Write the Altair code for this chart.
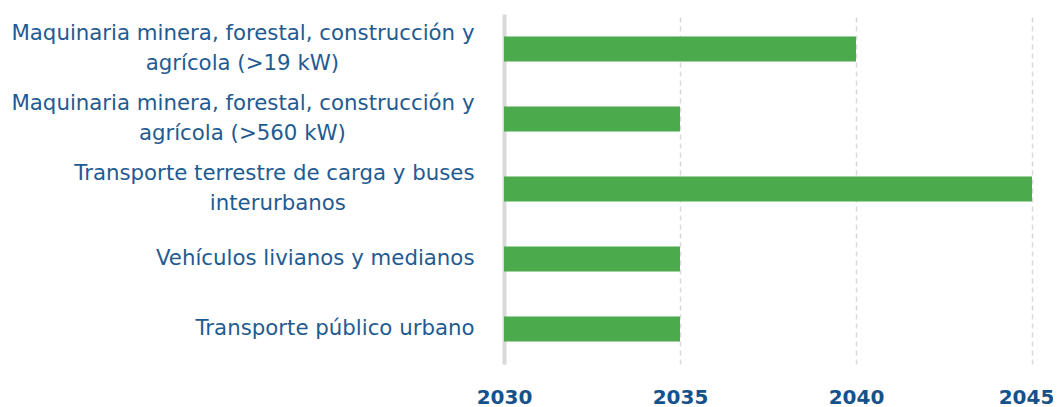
import altair as alt
import pandas as pd

categories = [
    "Maquinaria minera, forestal, construcción y|agrícola (>19 kW)",
    "Maquinaria minera, forestal, construcción y|agrícola (>560 kW)",
    "Transporte terrestre de carga y buses|interurbanos",
    "Vehículos livianos y medianos",
    "Transporte público urbano",
]
start_year = [2030, 2030, 2030, 2030, 2030]
end_year = [2040, 2035, 2045, 2035, 2035]
x_ticks = [2030, 2035, 2040, 2045]

df = pd.DataFrame({"cat": categories, "start": start_year, "end": end_year})

NB = "\u00a0"
WJ = "\u2060"
parts = "split(datum.label,'|')"
label_expr = (
    f"length({parts}) > 1 ? [{parts}[0], pad({parts}[1], length({parts}[1]) + "
    f"round(0.75*(length({parts}[0]) - length({parts}[1]))), '{NB}') + '{WJ}'] : datum.label"
)

chart = alt.Chart(df).mark_bar(color="#4BAA4B").encode(
    y=alt.Y("cat:N", sort=categories, title=None,
            scale=alt.Scale(paddingInner=0.64, paddingOuter=0.32),
            axis=alt.Axis(labelExpr=label_expr, labelFont="DejaVu Sans",
                          labelFontSize=21.3, labelColor="#1F5B91", labelPadding=30,
                          labelLineHeight=30, ticks=False, domainColor="#D9D9D9",
                          domainWidth=4, grid=False, labelLimit=700,
                          labelOffset={"condition": {"test": "indexof(datum.label, '|') >= 0", "value": -15}, "value": 0})),
    x=alt.X("start:Q", title=None,
            scale=alt.Scale(domain=[2030, 2045], nice=False, zero=False),
            axis=alt.Axis(values=x_ticks, format="d", labelFont="DejaVu Sans",
                          labelFontWeight="bold", labelFontSize=20, labelColor="#15528B",
                          labelPadding=23, ticks=False, domain=False, grid=True, labelFlush=False,
                          labelOffset={"condition": {"test": "datum.value == 2045", "value": -6}, "value": 0},
                          gridColor="#D9D9D9", gridDash=[5, 4], gridWidth=1.5)),
    x2="end:Q",
).properties(
    width=528, height=350,
    autosize=alt.AutoSizeParams(type="none"),
    padding={"left": 496, "top": 6, "right": 21, "bottom": 45},
).configure_view(stroke=None)

chart.save("out.html", embed_options={"renderer": "svg", "actions": False})
